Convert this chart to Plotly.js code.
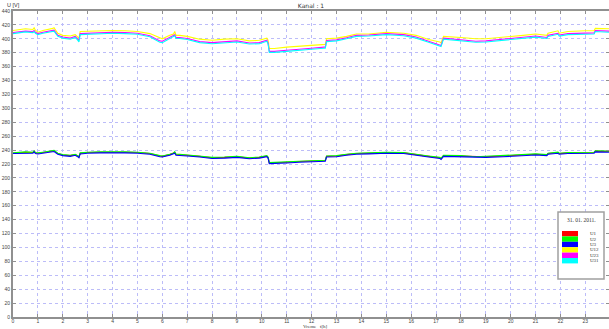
<!DOCTYPE html>
<html>
<head>
<meta charset="utf-8">
<script src="https://cdn.plot.ly/plotly-3.0.1.min.js"></script>
<style>html,body{margin:0;padding:0;background:#fff;}#chart{width:609px;height:329px;}</style>
</head>
<body>
<div id="chart"></div>
<script>
// time [h]
const hours = [0,0.3,0.5,0.8,0.85,0.9,1.0,1.2,1.5,1.6,1.65,1.8,2.0,2.3,2.5,2.6,2.65,2.7,3.0,3.5,4.0,4.5,5.0,5.5,5.9,6.0,6.3,6.45,6.5,6.55,6.7,7.0,7.5,8.0,8.5,9.0,9.5,9.9,10.2,10.25,10.3,10.5,11.0,11.5,12.0,12.5,12.55,12.6,13.0,13.4,13.8,14.3,15.0,15.7,16.2,16.7,17.15,17.2,17.3,18.0,18.6,19.0,19.7,20.0,20.5,21.0,21.45,21.5,21.9,21.95,22.3,23.0,23.35,23.4,23.95];

const U1 = [235.5,236.5,237,236.5,238.5,236,235.5,236.5,238,238.5,239,235,233,232,233.5,231.5,230,235.5,236.5,237,237.5,237,236.5,235,231.5,231,233.5,235,236.5,233.5,233.5,232.5,231,229,229.5,230.5,228.5,229.5,231.5,229.5,221.5,221.5,222.5,223.5,224,225,225,231,231.5,233.5,235,235.5,236.5,236,234,231,229,227.5,232,231.5,230,230.5,231.5,232,233,234,233,235,236.5,235,236,236.5,236.5,238.5,238];
const U2 = [236,237,237.5,237,239,236.5,236,237,238.5,239,239.5,235.5,233.5,232.5,234,232,230.5,236,237,237.5,238,237.5,237,235.5,232,231.5,234,235.5,237.5,234,234,233,231.5,229.5,230,231,229,230,232,230,222,222,223,224,224.5,225.5,225.5,231.5,232,234,235.5,236,237,236.5,234.5,231.5,229.5,228,232.5,232,230.5,231,232,232.5,233.5,234.5,233.5,235.5,237,235.5,236.5,237,237,239,238.5];
const U3 = [235,235.5,236,235.5,237.5,235,234.5,235.5,237,237.5,238,234,232,231,232.5,230.5,229,234.5,235.5,236,236.5,236,235.5,234,230.5,230,232.5,234,235.5,232.5,232.5,231.5,230,228,228.5,229.5,227.5,228.5,230.5,228.5,220.5,220.5,221.5,222.5,223,224,224,230,230.5,232.5,234,234.5,235.5,235,233,230,228,226.5,231,230.5,229,229.5,230.5,231,232,233,232,234,235.5,234,235,235.5,235.5,237.5,237];
const U12 = [412,413.5,414.5,413.5,416,412.5,409.5,412,413.5,415,416,408,405,404,406,403,401,410.5,411,411.5,412,411.5,410.5,407.5,401,400,405,407,410.5,405,405,403.5,399.5,398,399.5,400,397,398,401,398,386,386,388,389,391,392,392,400,401,403.5,407,407,409.5,408,405,399,395.5,394,403.5,402,400,400,402,403.5,405,407,405,408,411.5,408,410.5,411.5,411.5,415,414.5];
const U23 = [409,410.5,411,410.5,412,409.5,407.5,409.5,411,412,412.5,405,402.5,401,403.5,400,398,407.5,408,409,409.5,409,408,404.5,397,396.5,401.5,404,406,402,402,400.5,396,394.5,396,397,394,394.5,398,394,382,382,383.5,384.5,386.5,388,388,397.5,398.5,401.5,405,405.5,407.5,406,402.5,396.5,392,390.5,401,399,396.5,397,399.5,401,402.5,404,402,405,408,405.5,407.5,408.5,408.5,412,411];
const U31 = [407.5,409,410,409,410.5,408,406,408,409.5,410.5,411,403.5,401,399.5,402,398,395.5,406,406.5,407.5,408,407.5,406.5,403,395,394.5,400,402.5,404.5,400.5,400.5,399,394.5,393,394.5,395.5,392.5,393,396.5,392.5,380.5,380.5,382,383,385,386.5,386.5,396,397,400,403.5,404,406,404.5,401,395,390.5,389,399.5,397.5,395,395.5,398,399.5,401,402.5,400.5,403.5,406.5,404,406,407,407,410.5,409.5];

const seriesNames = ['U1','U2','U3','U12','U23','U31'];
const seriesData = [U1,U2,U3,U12,U23,U31];
const seriesColors = ['#ff0000','#00ff00','#0000ff','#ffff00','#ff00ff','#00ffff'];
const dateLabel = '31. 01. 2011.';

const traces = seriesData.map((d,i)=>({
  type:'scatter', mode:'lines', x:hours, y:d, name:seriesNames[i],
  line:{color:seriesColors[i], width:1.1}, showlegend:false, hoverinfo:'skip'
}));

// plot area in pixels
const L=13, R=609, T=11, B=317;
const px = x => (x-L)/(R-L);
const py = y => (B-y)/(B-T);

const shapes = [{type:'rect', xref:'paper', yref:'paper', x0:px(558), x1:px(604), y0:py(279), y1:py(212),
  line:{color:'#a0a0a0', width:1.5}, fillcolor:'#ffffff', layer:'above'}];
const annotations = [
  {xref:'paper', yref:'paper', x:px(581), y:py(220), text:dateLabel, showarrow:false,
   font:{family:'Liberation Serif', size:5.5, color:'#333'}, xanchor:'center', yanchor:'middle'},
  {xref:'paper', yref:'paper', x:px(5), y:py(5), text:'U [V]', showarrow:false,
   font:{family:'Liberation Sans', size:5.5, color:'#333'}, xanchor:'left', yanchor:'middle'},
  {xref:'paper', yref:'paper', x:px(315), y:py(326.5), text:'Vreme   t[h]', showarrow:false,
   font:{family:'Liberation Serif', size:5, color:'#333'}, xanchor:'center', yanchor:'middle'}
];
const swH = 5.4, swTop = 231;
seriesNames.forEach((n,i)=>{
  shapes.push({type:'rect', xref:'paper', yref:'paper', x0:px(562), x1:px(578),
    y0:py(swTop+(i+1)*swH), y1:py(swTop+i*swH), line:{width:0}, fillcolor:seriesColors[i], layer:'above'});
  annotations.push({xref:'paper', yref:'paper', x:px(588), y:py(swTop+(i+0.5)*swH), text:n, showarrow:false,
    font:{family:'Liberation Serif', size:5, color:'#333'}, xanchor:'left', yanchor:'middle'});
});

const axisCommon = {
  showline:true, linecolor:'#909090', linewidth:2, mirror:'ticks',
  ticks:'inside', ticklen:3, tickcolor:'#909090', tickwidth:1,
  showgrid:true, gridcolor:'#bcbcf8', gridwidth:1, griddash:'3px,3px',
  zeroline:false, tickfont:{family:'Liberation Sans', size:5, color:'#444'}
};

const layout = {
  width:609, height:329,
  margin:{l:L, r:609-R, t:T, b:329-B, pad:0},
  paper_bgcolor:'#ffffff', plot_bgcolor:'#ffffff',
  title:{text:'Kanal : 1', x:0.5, xref:'paper', y:1-6/329, yanchor:'middle',
    font:{family:'DejaVu Sans', size:6, color:'#333'}},
  xaxis:Object.assign({}, axisCommon, {range:[0,23.95], dtick:1, tick0:0, ticklabelstandoff:-2}),
  yaxis:Object.assign({}, axisCommon, {range:[0,440], dtick:20, tick0:0}),
  shapes:shapes, annotations:annotations, showlegend:false
};

Plotly.newPlot('chart', traces, layout, {displayModeBar:false, staticPlot:true});
</script>
</body>
</html>
